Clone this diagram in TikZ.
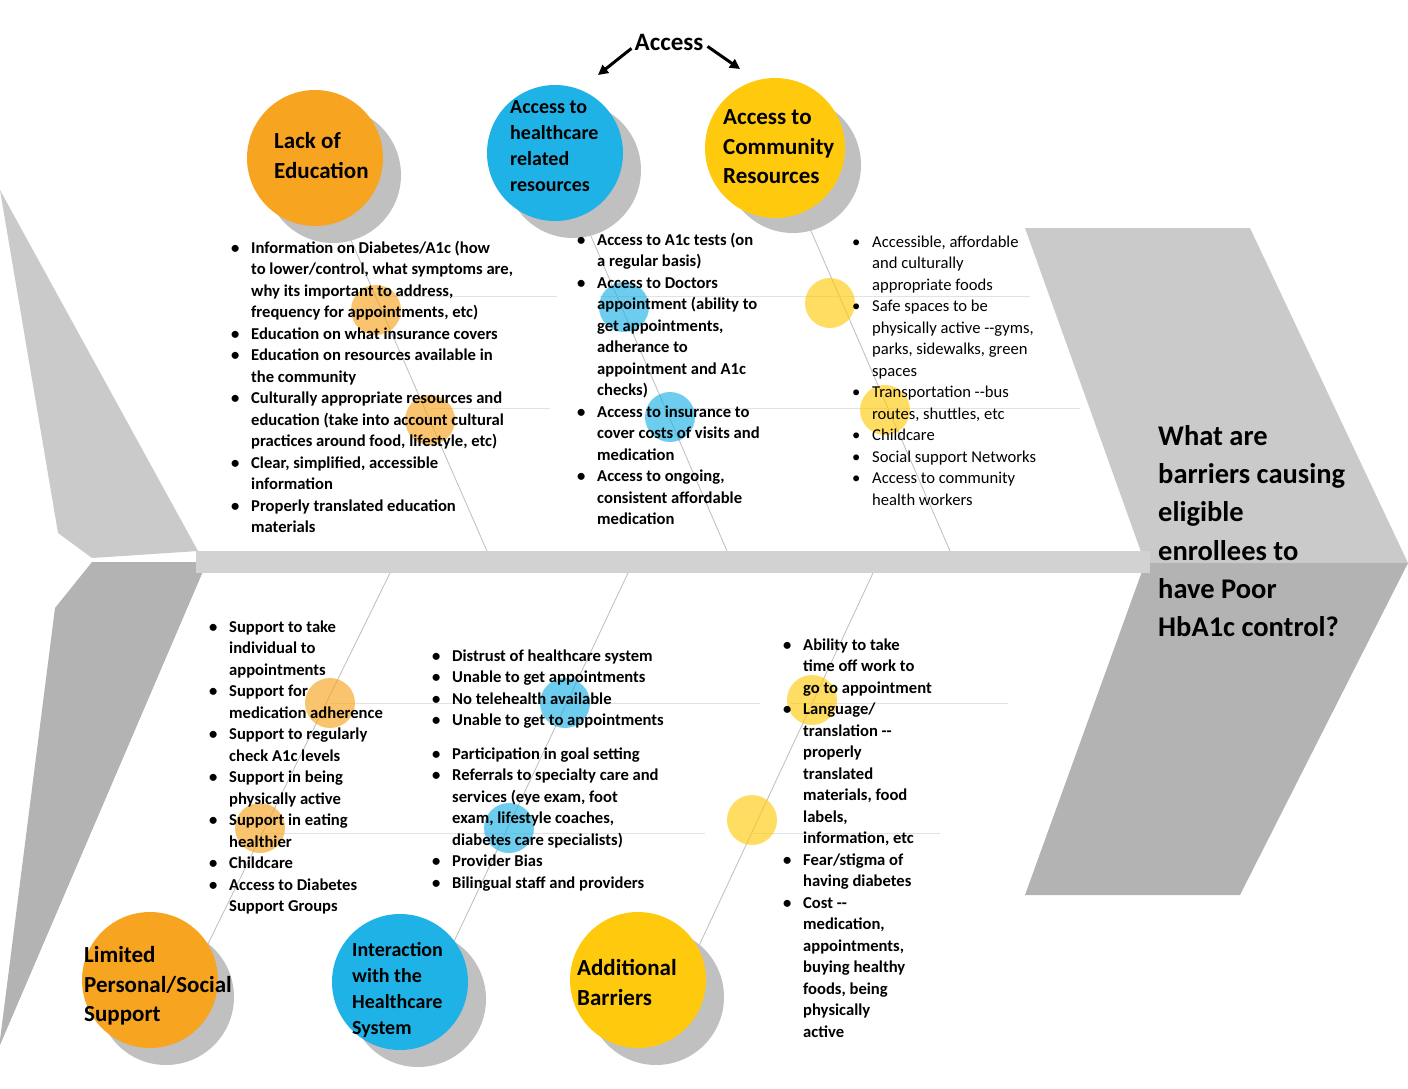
\documentclass[tikz,border=0pt]{standalone}
\usepackage{fontspec}
\setmainfont{Carlito}
\usetikzlibrary{arrows.meta}
\definecolor{cOr}{HTML}{F7A520}
\definecolor{cBl}{HTML}{1FB2E6}
\definecolor{cYe}{HTML}{FFC90E}
\definecolor{gUp}{HTML}{CACACA}
\definecolor{gLo}{HTML}{B3B3B3}
\definecolor{gSh}{HTML}{C0C0C0}
\definecolor{gBone}{HTML}{BDBDBD}
\definecolor{gHl}{HTML}{E2E2E2}
\newcommand{\LF}{\fontsize{16.6}{21.5}\selectfont}
\tikzset{
 big/.style={circle,minimum size=136pt,inner sep=0},
 shad/.style={circle,fill=gSh,minimum size=136pt,inner sep=0},
 dot/.style={circle,minimum size=50pt,inner sep=0,fill opacity=0.65},
 lst/.style={anchor=north west,inner sep=0,font=\LF\bfseries},
 lbl/.style={anchor=west,inner sep=0,align=left,font=\bfseries},
 bone/.style={draw=gBone,line width=0.8pt},
 hl/.style={draw=gHl,line width=0.8pt},
}
\begin{document}
\begin{tikzpicture}[x=1pt,y=-1pt]
\useasboundingbox (0,0) rectangle (1408,1088);
% head
\fill[gUp] (1025,228) -- (1250,228) -- (1408,563) -- (1145,563) -- cycle;
\fill[gLo] (1145,563) -- (1408,563) -- (1240,895) -- (1025,895) -- cycle;
% tail
\fill[gUp] (0,190) -- (198,551) -- (92,558) -- (58,533) -- cycle;
\fill[gLo] (92,562) -- (207,562) -- (0,1045) -- (0,1040) -- (55,608) -- cycle;
% spine
\fill[gUp!85] (196,551) rectangle (1150,573);
% bones
\draw[bone] (315,158) -- (487,551);
\draw[bone] (555,153) -- (727,551);
\draw[bone] (775,148) -- (950,551);
\draw[bone] (390,573) -- (205,950);
\draw[bone] (628,573) -- (450,950);
\draw[bone] (873,573) -- (690,965);
\draw[hl] (380,296) -- (557,296);
\draw[hl] (600,296) -- (1030,296);
\draw[hl] (430,408) -- (550,408);
\draw[hl] (650,408) -- (1080,408);
\draw[hl] (330,703) -- (760,703);
\draw[hl] (790,703) -- (1008,703);
\draw[hl] (260,833) -- (705,833);
\draw[hl] (750,833) -- (940,833);
% small dots
\node[dot,fill=cOr] (d1) at (376,310) {};
\node[dot,fill=cOr] (d2) at (430,420) {};
\node[dot,fill=cBl] (d3) at (624,307) {};
\node[dot,fill=cBl] (d4) at (670,417) {};
\node[dot,fill=cYe] (d5) at (830,303) {};
\node[dot,fill=cYe] (d6) at (885,410) {};
\node[dot,fill=cOr] (d7) at (330,703) {};
\node[dot,fill=cOr] (d8) at (260,828) {};
\node[dot,fill=cBl] (d9) at (565,703) {};
\node[dot,fill=cBl] (d10) at (509,828) {};
\node[dot,fill=cYe] (d11) at (812,700) {};
\node[dot,fill=cYe] (d12) at (752,820) {};
% big circles
\node[shad] (s1) at (333,175) {};
\node[big,fill=cOr] (c1) at (315,158) {};
\node[shad] (s2) at (573,170) {};
\node[big,fill=cBl] (c2) at (555,153) {};
\node[shad] (s3) at (793,165) {};
\node[big,fill=cYe,minimum size=140pt] (c3) at (775,148) {};
\node[shad] (s4) at (166,997) {};
\node[big,fill=cOr] (c4) at (150,980) {};
\node[shad] (s5) at (418,999) {};
\node[big,fill=cBl] (c5) at (400,982) {};
\node[shad] (s6) at (656,997) {};
\node[big,fill=cYe] (c6) at (638,980) {};
% circle labels
\node[lbl,font=\fontsize{23}{30}\selectfont\bfseries] (t1) at (274,156) {Lack of\\Education};
\node[lbl,font=\fontsize{20}{25.8}\selectfont\bfseries] (t2) at (510,146) {Access to\\healthcare\\related\\resources};
\node[lbl,font=\fontsize{23}{29.5}\selectfont\bfseries] (t3) at (723,147) {Access to\\Community\\Resources};
\node[lbl,font=\fontsize{23}{29.5}\selectfont\bfseries] (t4) at (84,986) {Limited\\Personal/Social\\Support};
\node[lbl,font=\fontsize{20}{25.7}\selectfont\bfseries] (t5) at (352,990) {Interaction\\with the\\Healthcare\\System};
\node[lbl,font=\fontsize{23}{30}\selectfont\bfseries] (t6) at (577,982) {Additional\\Barriers};
% Access
\node[inner sep=0,font=\fontsize{25}{28}\selectfont\bfseries] (acc) at (669,42) {Access};
\draw[-{Triangle[length=10pt,width=10pt]},line width=3pt] (acc.south west) ++(-3,-2) -- (598,75);
\draw[-{Triangle[length=10pt,width=10pt]},line width=3pt] (acc.south east) ++(4,-4) -- (740,69);
% title
\node[lbl,font=\fontsize{28.5}{38.3}\selectfont\bfseries] (q) at (1158,531) {What are\\barriers causing\\eligible\\enrollees to\\have Poor\\HbA1c control?};
% lists
\node[lst] (L1) at (231,238) {\begin{tabular}{@{}p{20pt}@{}l@{}}
\textbullet & Information on Diabetes/A1c (how\\
 & to lower/control, what symptoms are,\\
 & why its important to address,\\
 & frequency for appointments, etc)\\
\textbullet & Education on what insurance covers\\
\textbullet & Education on resources available in\\
 & the community\\
\textbullet & Culturally appropriate resources and\\
 & education (take into account cultural\\
 & practices around food, lifestyle, etc)\\
\textbullet & Clear, simplified, accessible\\
 & information\\
\textbullet & Properly translated education\\
 & materials
\end{tabular}};
\node[lst] (L2) at (577,230) {\begin{tabular}{@{}p{20pt}@{}l@{}}
\textbullet & Access to A1c tests (on\\
 & a regular basis)\\
\textbullet & Access to Doctors\\
 & appointment (ability to\\
 & get appointments,\\
 & adherance to\\
 & appointment and A1c\\
 & checks)\\
\textbullet & Access to insurance to\\
 & cover costs of visits and\\
 & medication\\
\textbullet & Access to ongoing,\\
 & consistent affordable\\
 & medication
\end{tabular}};
\node[lst,font=\LF] (L3) at (852,232) {\begin{tabular}{@{}p{20pt}@{}l@{}}
\textbullet & Accessible, affordable\\
 & and culturally\\
 & appropriate foods\\
\textbullet & Safe spaces to be\\
 & physically active -{}-gyms,\\
 & parks, sidewalks, green\\
 & spaces\\
\textbullet & Transportation -{}-bus\\
 & routes, shuttles, etc\\
\textbullet & Childcare\\
\textbullet & Social support Networks\\
\textbullet & Access to community\\
 & health workers
\end{tabular}};
\node[lst] (L4) at (209,617) {\begin{tabular}{@{}p{20pt}@{}l@{}}
\textbullet & Support to take\\
 & individual to\\
 & appointments\\
\textbullet & Support for\\
 & medication adherence\\
\textbullet & Support to regularly\\
 & check A1c levels\\
\textbullet & Support in being\\
 & physically active\\
\textbullet & Support in eating\\
 & healthier\\
\textbullet & Childcare\\
\textbullet & Access to Diabetes\\
 & Support Groups
\end{tabular}};
\node[lst] (L5) at (432,646) {\begin{tabular}{@{}p{20pt}@{}l@{}}
\textbullet & Distrust of healthcare system\\
\textbullet & Unable to get appointments\\
\textbullet & No telehealth available\\
\textbullet & Unable to get to appointments\\[12pt]
\textbullet & Participation in goal setting\\
\textbullet & Referrals to specialty care and\\
 & services (eye exam, foot\\
 & exam, lifestyle coaches,\\
 & diabetes care specialists)\\
\textbullet & Provider Bias\\
\textbullet & Bilingual staff and providers
\end{tabular}};
\node[lst] (L6) at (783,635) {\begin{tabular}{@{}p{20pt}@{}l@{}}
\textbullet & Ability to take\\
 & time off work to\\
 & go to appointment\\
\textbullet & Language/\\
 & translation -{}-\\
 & properly\\
 & translated\\
 & materials, food\\
 & labels,\\
 & information, etc\\
\textbullet & Fear/stigma of\\
 & having diabetes\\
\textbullet & Cost -{}-\\
 & medication,\\
 & appointments,\\
 & buying healthy\\
 & foods, being\\
 & physically\\
 & active
\end{tabular}};
\end{tikzpicture}
\end{document}
